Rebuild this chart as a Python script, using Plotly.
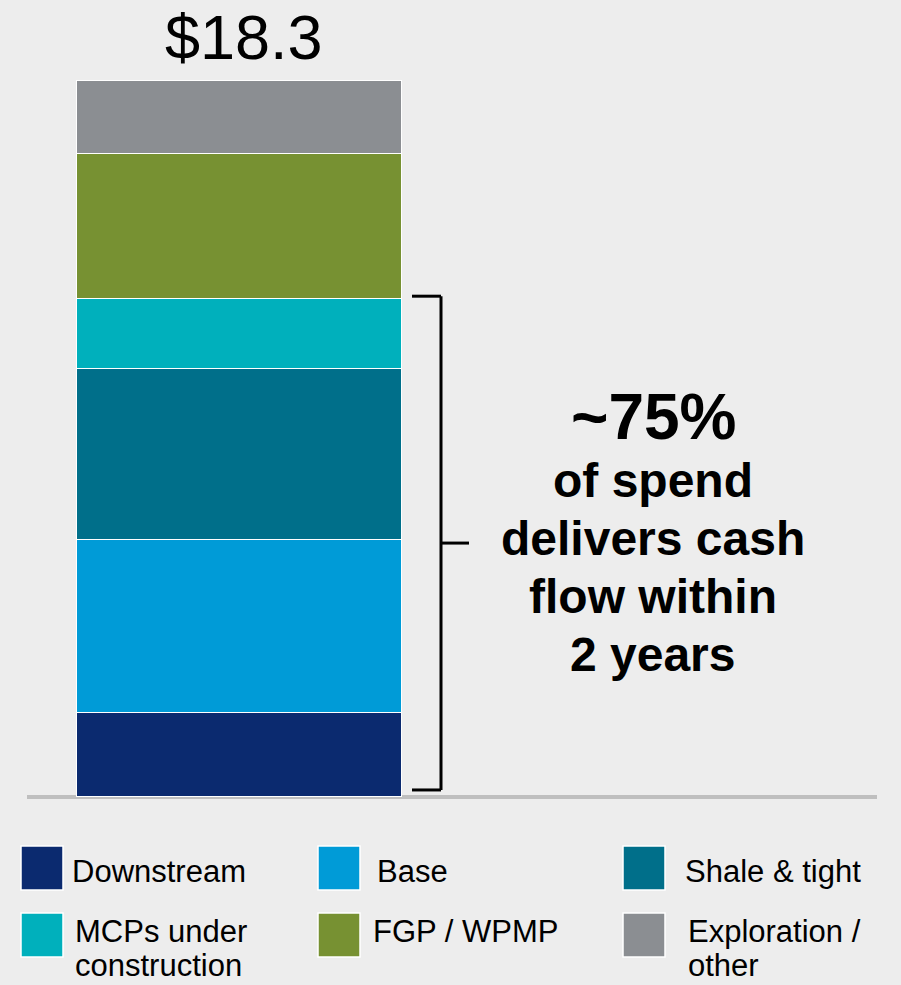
import plotly.graph_objects as go

W, H = 901, 985

# ---- data ----
categories = ["Downstream", "Base", "Shale & tight", "MCPs under construction", "FGP / WPMP", "Exploration / other"]
legend_lines = [["Downstream"], ["Base"], ["Shale & tight"],
                ["MCPs under", "construction"], ["FGP / WPMP"], ["Exploration /", "other"]]
values = [2.15, 4.42, 4.37, 1.79, 3.71, 1.86]
colors = ["#0B2A6F", "#009BD7", "#006F8A", "#00B0BC", "#779132", "#8B8E92"]
total_label = "$18.3"
callout_big = "~75%"
callout_lines = ["of spend", "delivers cash", "flow within", "2 years"]
bracket_series = 4  # first four series delivered within 2 years

BG = "#EDEDED"
FONT = "Liberation Sans, Arial, sans-serif"

def px_x(p):
    return p / W

def px_y(p):
    return 1 - p / H

fig = go.Figure()
for name, v, c in zip(categories, values, colors):
    fig.add_trace(go.Bar(
        x=[0], y=[v], name=name, width=1.0,
        marker=dict(color=c, line=dict(color="white", width=1.5)),
        showlegend=False, hoverinfo="name+y",
    ))

total = sum(values)
# axis ranges so that bar sits at the reference position
y_span = total * H / 716.0
y_min = -188.0 / H * y_span
x_span = W / 325.0
x_min = -0.5 - 77.0 / W * x_span

shapes = []
# baseline
shapes.append(dict(type="line", xref="paper", yref="y", x0=px_x(27), x1=px_x(877), y0=0, y1=0,
                   line=dict(color="#BFBFBF", width=4), layer="below"))

# bracket
cum = sum(values[:bracket_series])
b_top = cum + 0.07
b_bot = 0.18
b_mid = (b_top + b_bot) / 2
bx = px_x(441)
blk = dict(color="black", width=3)
shapes += [
    dict(type="line", xref="paper", yref="y", x0=px_x(412), x1=bx, y0=b_top, y1=b_top, line=blk),
    dict(type="line", xref="paper", yref="y", x0=bx, x1=bx, y0=b_top, y1=b_bot, line=blk),
    dict(type="line", xref="paper", yref="y", x0=px_x(412), x1=bx, y0=b_bot, y1=b_bot, line=blk),
    dict(type="line", xref="paper", yref="y", x0=bx, x1=px_x(469), y0=b_mid, y1=b_mid, line=blk),
]

annotations = []
annotations.append(dict(x=0, y=total, xref="x", yref="y", text=total_label, showarrow=False,
                        yanchor="bottom", xanchor="center", yshift=7, xshift=4,
                        font=dict(family=FONT, size=63, color="black")))

annotations.append(dict(x=px_x(653), y=px_y(417), xref="paper", yref="paper", text="<b>%s</b>" % callout_big,
                        showarrow=False, xanchor="center", yanchor="middle",
                        font=dict(family=FONT, size=64, color="black")))
for i, line in enumerate(callout_lines):
    annotations.append(dict(x=px_x(653), y=px_y(480 + 58 * i), xref="paper", yref="paper",
                            text="<b>%s</b>" % line, showarrow=False, xanchor="center", yanchor="middle",
                            font=dict(family=FONT, size=48, color="black")))

# legend (3 columns x 2 rows)
sw_x = [21, 318, 623]
tx_x = [[70, 375, 683], [73, 371, 686]]
sw_y = [846, 913]
line_y = [[871], [931, 965]]
for i, (lines, c) in enumerate(zip(legend_lines, colors)):
    r, col = divmod(i, 3)
    x0 = sw_x[col]
    y0 = sw_y[r]
    shapes.append(dict(type="rect", xref="paper", yref="paper",
                       x0=px_x(x0), x1=px_x(x0 + 42), y0=px_y(y0), y1=px_y(y0 + 44),
                       fillcolor=c, line=dict(color="white", width=1.5)))
    for j, txt in enumerate(lines):
        annotations.append(dict(x=px_x(tx_x[r][col]), y=px_y(line_y[r][j]), xref="paper", yref="paper",
                                text=txt, showarrow=False, xanchor="left", yanchor="middle",
                                font=dict(family=FONT, size=31, color="black")))

fig.update_layout(
    width=W, height=H,
    margin=dict(l=0, r=0, t=0, b=0),
    paper_bgcolor=BG, plot_bgcolor=BG,
    barmode="stack", bargap=0,
    showlegend=False,
    xaxis=dict(range=[x_min, x_min + x_span], visible=False, fixedrange=True),
    yaxis=dict(range=[y_min, y_min + y_span], visible=False, fixedrange=True),
    shapes=shapes, annotations=annotations,
)

fig.write_html("out.html")
